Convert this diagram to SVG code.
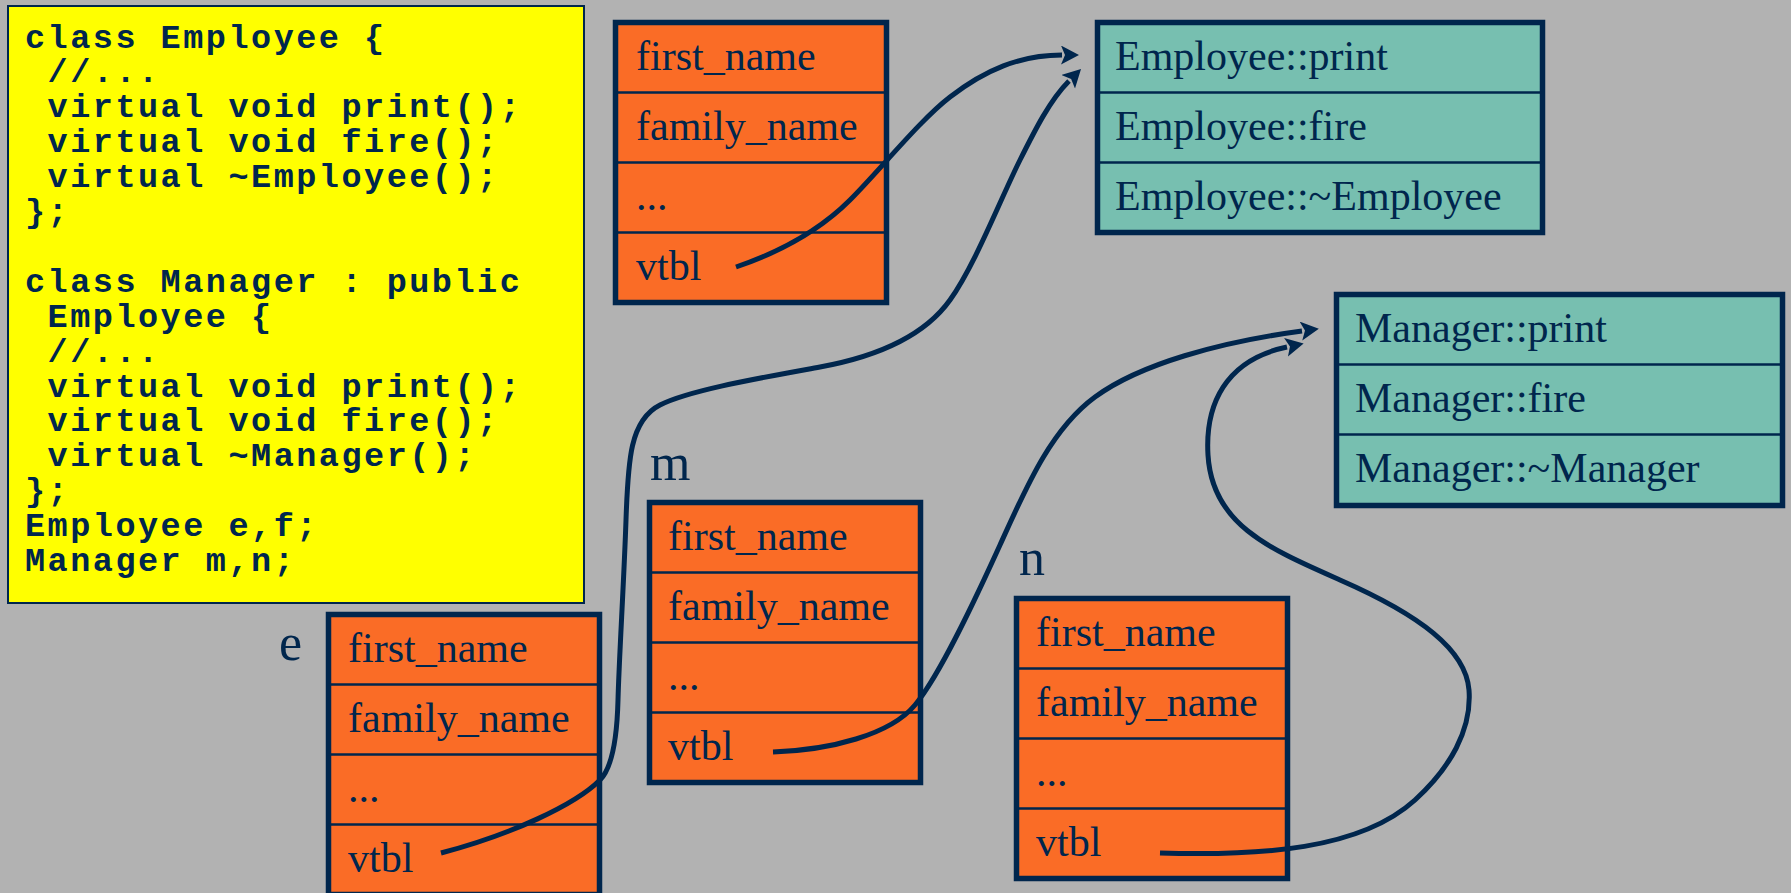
<svg xmlns="http://www.w3.org/2000/svg" width="1791" height="893" viewBox="0 0 1791 893">
<style>
.bg{fill:#B2B2B2}
.code{font-family:"Liberation Mono","Courier New",monospace;font-weight:bold;font-size:33.5px;letter-spacing:2.5px;fill:#00264D}
.obj{fill:#FA6C26;stroke:#00264D;stroke-width:5.5}
.vt{fill:#77BFB0;stroke:#00264D;stroke-width:5.5}
.div{stroke:#00264D;stroke-width:2.5}
.t{font-family:"Liberation Serif","Times New Roman",serif;font-size:42px;fill:#00264D}
.lbl{font-family:"Liberation Serif","Times New Roman",serif;font-size:52px;fill:#00264D}
.con{fill:none;stroke:#00264D;stroke-width:5;marker-end:url(#arr)}
</style>
<defs>
<marker id="arr" markerUnits="userSpaceOnUse" markerWidth="20" markerHeight="20" viewBox="0 0 20 20" refX="1" refY="9.5" orient="auto">
<path d="M0,0 L18,9.5 L0,19 L4,9.5 Z" fill="#00264D"/>
</marker>
</defs>
<rect class="bg" x="0" y="0" width="1791" height="893"/>

<g id="code">
<rect x="8" y="6" width="576" height="597" fill="#FFFF00" stroke="#00264D" stroke-width="2"/>
<text class="code" xml:space="preserve"><tspan x="25" y="47.5">class Employee {</tspan><tspan x="25" y="82.4"> //...</tspan><tspan x="25" y="117.3"> virtual void print();</tspan><tspan x="25" y="152.2"> virtual void fire();</tspan><tspan x="25" y="187.1"> virtual ~Employee();</tspan><tspan x="25" y="222">};</tspan><tspan x="25" y="291.8">class Manager : public</tspan><tspan x="25" y="326.7"> Employee {</tspan><tspan x="25" y="361.6"> //...</tspan><tspan x="25" y="396.5"> virtual void print();</tspan><tspan x="25" y="431.4"> virtual void fire();</tspan><tspan x="25" y="466.3"> virtual ~Manager();</tspan><tspan x="25" y="501.2">};</tspan><tspan x="25" y="536.1">Employee e,f;</tspan><tspan x="25" y="571">Manager m,n;</tspan></text>
</g>

<g id="obj_f">
<rect class="obj" x="615.5" y="22.5" width="271" height="280"/>
<line class="div" x1="615.5" y1="92.5" x2="886.5" y2="92.5"/>
<line class="div" x1="615.5" y1="162.5" x2="886.5" y2="162.5"/>
<line class="div" x1="615.5" y1="232.5" x2="886.5" y2="232.5"/>
<text class="t" x="636" y="69.5">first_name</text>
<text class="t" x="636" y="139.5">family_name</text>
<text class="t" x="636" y="209.5">...</text>
<text class="t" x="636" y="279.5">vtbl</text>
</g>

<g id="vtbl_employee">
<rect class="vt" x="1097.5" y="22.5" width="445" height="210"/>
<line class="div" x1="1097.5" y1="92.5" x2="1542.5" y2="92.5"/>
<line class="div" x1="1097.5" y1="162.5" x2="1542.5" y2="162.5"/>
<text class="t" x="1115" y="69.5">Employee::print</text>
<text class="t" x="1115" y="139.5">Employee::fire</text>
<text class="t" x="1115" y="209.5">Employee::~Employee</text>
</g>

<g id="vtbl_manager">
<rect class="vt" x="1336.5" y="294.5" width="446" height="211"/>
<line class="div" x1="1336.5" y1="364.5" x2="1782.5" y2="364.5"/>
<line class="div" x1="1336.5" y1="434.5" x2="1782.5" y2="434.5"/>
<text class="t" x="1355" y="341.5">Manager::print</text>
<text class="t" x="1355" y="411.5">Manager::fire</text>
<text class="t" x="1355" y="481.5">Manager::~Manager</text>
</g>

<g id="obj_e">
<text class="lbl" x="279" y="660">e</text>
<rect class="obj" x="328.5" y="614.5" width="271" height="280"/>
<line class="div" x1="328.5" y1="684.5" x2="599.5" y2="684.5"/>
<line class="div" x1="328.5" y1="754.5" x2="599.5" y2="754.5"/>
<line class="div" x1="328.5" y1="824.5" x2="599.5" y2="824.5"/>
<text class="t" x="348" y="661.5">first_name</text>
<text class="t" x="348" y="731.5">family_name</text>
<text class="t" x="348" y="801.5">...</text>
<text class="t" x="348" y="871.5">vtbl</text>
</g>

<g id="obj_m">
<text class="lbl" x="650" y="480">m</text>
<rect class="obj" x="649.5" y="502.5" width="271" height="280"/>
<line class="div" x1="649.5" y1="572.5" x2="920.5" y2="572.5"/>
<line class="div" x1="649.5" y1="642.5" x2="920.5" y2="642.5"/>
<line class="div" x1="649.5" y1="712.5" x2="920.5" y2="712.5"/>
<text class="t" x="668" y="549.5">first_name</text>
<text class="t" x="668" y="619.5">family_name</text>
<text class="t" x="668" y="689.5">...</text>
<text class="t" x="668" y="759.5">vtbl</text>
</g>

<g id="obj_n">
<text class="lbl" x="1019" y="575">n</text>
<rect class="obj" x="1016.5" y="598.5" width="271" height="280"/>
<line class="div" x1="1016.5" y1="668.5" x2="1287.5" y2="668.5"/>
<line class="div" x1="1016.5" y1="738.5" x2="1287.5" y2="738.5"/>
<line class="div" x1="1016.5" y1="808.5" x2="1287.5" y2="808.5"/>
<text class="t" x="1036" y="645.5">first_name</text>
<text class="t" x="1036" y="715.5">family_name</text>
<text class="t" x="1036" y="785.5">...</text>
<text class="t" x="1036" y="855.5">vtbl</text>
</g>

<g id="connectors">
<path class="con" d="M736,267 C780,252 820,230 850,200 C880,170 920,120 950,97 C985,70 1020,55 1062,55"/>
<path class="con" d="M441,853 C510,835 575,805 600,780 C612,768 617,740 618,700 C619,660 624,580 626,520 C628,460 630,420 660,405 C690,390 760,378 820,367 C880,356 925,335 950,300 C975,265 1000,200 1020,160 C1035,130 1050,100 1069,81"/>
<path class="con" d="M773,752 C830,750 890,735 915,705 C940,675 975,600 1000,545 C1025,490 1050,430 1095,397 C1140,364 1220,342 1302,331"/>
<path class="con" d="M1160,853 C1260,856 1360,850 1415,800 C1450,768 1472,730 1469,690 C1466,650 1420,615 1340,580 C1270,549 1212,525 1208,455 C1205,405 1225,360 1287,347"/>
</g>
</svg>
